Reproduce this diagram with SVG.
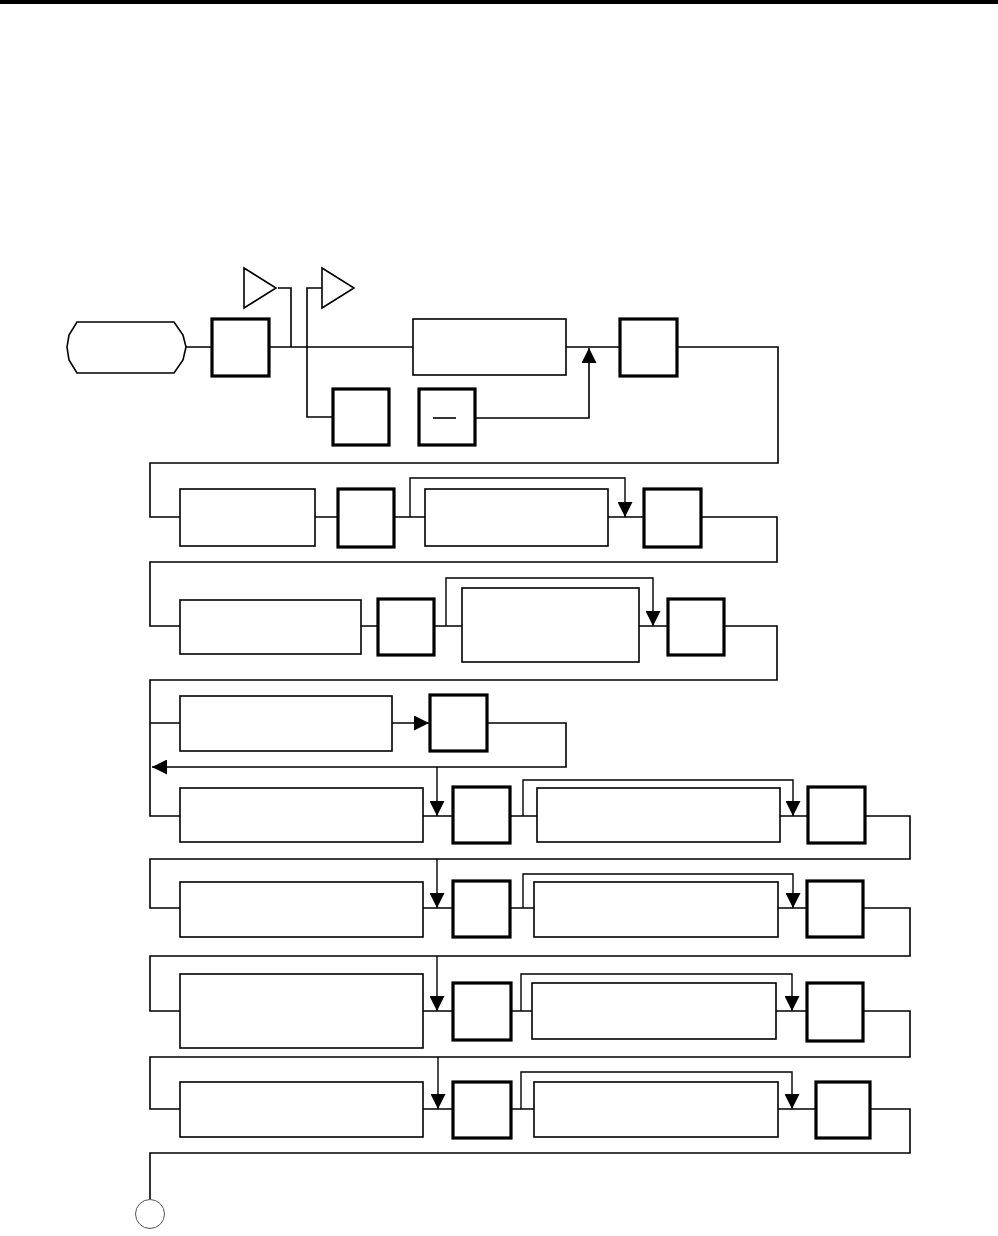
<svg xmlns="http://www.w3.org/2000/svg" width="998" height="1236" viewBox="0 0 998 1236">
<style>
.thin{fill:#fff;stroke:#000;stroke-width:1.6}
.thick{fill:#fff;stroke:#000;stroke-width:3.2}
.c{fill:none;stroke:#000;stroke-width:1.6}
.b{fill:none;stroke:#000;stroke-width:1.4}
.ar{marker-end:url(#ah)}
</style>
<defs>
<marker id="ah" viewBox="0 0 15 15" refX="15" refY="7.5" markerWidth="15" markerHeight="15" markerUnits="userSpaceOnUse" orient="auto">
<path d="M0,0 L15,7.5 L0,15 z" fill="#000"/>
</marker>
</defs>
<rect x="0" y="0" width="998" height="4" fill="#000"/>
<g id="connectors">
<path class="c" d="M182,347 H212 M269,347 H413 M566,347 H620 M677,347 H778 V463 H150 V517 H180"/>
<path class="c" d="M278,288 H291 V347 M322,288 H307 V417 H333"/>
<path class="c ar" d="M475,418 H589 V348"/>
<path class="c" d="M315,517 H338 M394,517 H425 M608,517 H644 M701,517 H777 V562 H150 V626 H180"/>
<path class="b ar" d="M410,517 V478 H625 V517"/>
<path class="c" d="M361,626 H378 M434,626 H462 M639,626 H668 M724,626 H777 V680 H150 V816 H180 M150,723 H180"/>
<path class="b ar" d="M446,626 V578 H653 V626"/>
<path class="c ar" d="M392,723 H429"/>
<path class="c ar" d="M487,723 H566 V767 H152"/>
<path class="b ar" d="M437,767 V816"/>
<path class="c" d="M423,816 H453 M510,816 H537 M780,816 H808 M865,816 H910 V859 H150 V908 H180"/>
<path class="b ar" d="M523,816 V780 H793 V816"/>
<path class="b ar" d="M437,859 V908"/>
<path class="c" d="M423,908 H453 M510,908 H534 M778,908 H807 M863,908 H910 V956 H150 V1011 H180"/>
<path class="b ar" d="M523,908 V874 H793 V908"/>
<path class="b ar" d="M437,956 V1011"/>
<path class="c" d="M423,1011 H453 M511,1011 H532 M776,1011 H807 M863,1011 H910 V1057 H150 V1109 H180"/>
<path class="b ar" d="M521,1011 V974 H792 V1011"/>
<path class="b ar" d="M438,1057 V1109"/>
<path class="c" d="M423,1109 H453 M511,1109 H534 M778,1109 H816 M870,1109 H910 V1153 H150 V1199"/>
<path class="b ar" d="M521,1109 V1072 H792 V1109"/>
</g>
<g id="start"><path class="thin" d="M77,322 H174 L183,335 L186,347 L183,360 L174,373 H77 L69,360 L67,347 L69,335 Z"/></g>
<g id="tri1"><path class="thin" d="M244,268 L276,288 L244,308 Z"/></g>
<g id="tri2"><path class="thin" d="M322,268 L354,288 L322,308 Z"/></g>
<g id="n1"><rect class="thick" x="212" y="319" width="57" height="57"/></g>
<g id="n2"><rect class="thick" x="333" y="389" width="56" height="56"/></g>
<g id="n3"><rect class="thick" x="419" y="389" width="56" height="56"/><line class="c" x1="433" y1="418" x2="456" y2="418"/></g>
<g id="n4"><rect class="thin" x="413" y="319" width="153" height="56"/></g>
<g id="n5"><rect class="thick" x="620" y="319" width="57" height="57"/></g>
<g id="r2a"><rect class="thin" x="180" y="489" width="135" height="57"/></g>
<g id="r2b"><rect class="thick" x="338" y="489" width="56" height="58"/></g>
<g id="r2c"><rect class="thin" x="425" y="489" width="183" height="57"/></g>
<g id="r2d"><rect class="thick" x="644" y="489" width="57" height="58"/></g>
<g id="r3a"><rect class="thin" x="180" y="600" width="181" height="54"/></g>
<g id="r3b"><rect class="thick" x="378" y="599" width="56" height="56"/></g>
<g id="r3c"><rect class="thin" x="462" y="588" width="177" height="74"/></g>
<g id="r3d"><rect class="thick" x="668" y="599" width="56" height="56"/></g>
<g id="r4a"><rect class="thin" x="180" y="696" width="212" height="55"/></g>
<g id="r4b"><rect class="thick" x="430" y="695" width="57" height="56"/></g>
<g id="r5a"><rect class="thin" x="180" y="788" width="243" height="54"/></g>
<g id="r5b"><rect class="thick" x="453" y="787" width="57" height="56"/></g>
<g id="r5c"><rect class="thin" x="537" y="788" width="243" height="54"/></g>
<g id="r5d"><rect class="thick" x="808" y="787" width="57" height="56"/></g>
<g id="r6a"><rect class="thin" x="180" y="882" width="243" height="55"/></g>
<g id="r6b"><rect class="thick" x="453" y="881" width="57" height="56"/></g>
<g id="r6c"><rect class="thin" x="534" y="882" width="244" height="55"/></g>
<g id="r6d"><rect class="thick" x="807" y="881" width="56" height="56"/></g>
<g id="r7a"><rect class="thin" x="180" y="974" width="243" height="74"/></g>
<g id="r7b"><rect class="thick" x="453" y="983" width="58" height="57"/></g>
<g id="r7c"><rect class="thin" x="532" y="983" width="244" height="56"/></g>
<g id="r7d"><rect class="thick" x="807" y="983" width="56" height="58"/></g>
<g id="r8a"><rect class="thin" x="180" y="1082" width="243" height="55"/></g>
<g id="r8b"><rect class="thick" x="453" y="1082" width="58" height="56"/></g>
<g id="r8c"><rect class="thin" x="534" y="1082" width="244" height="55"/></g>
<g id="r8d"><rect class="thick" x="816" y="1082" width="54" height="56"/></g>
<g id="end"><circle cx="150" cy="1214" r="14.5" fill="#fff" stroke="#555" stroke-width="1"/></g>
</svg>
